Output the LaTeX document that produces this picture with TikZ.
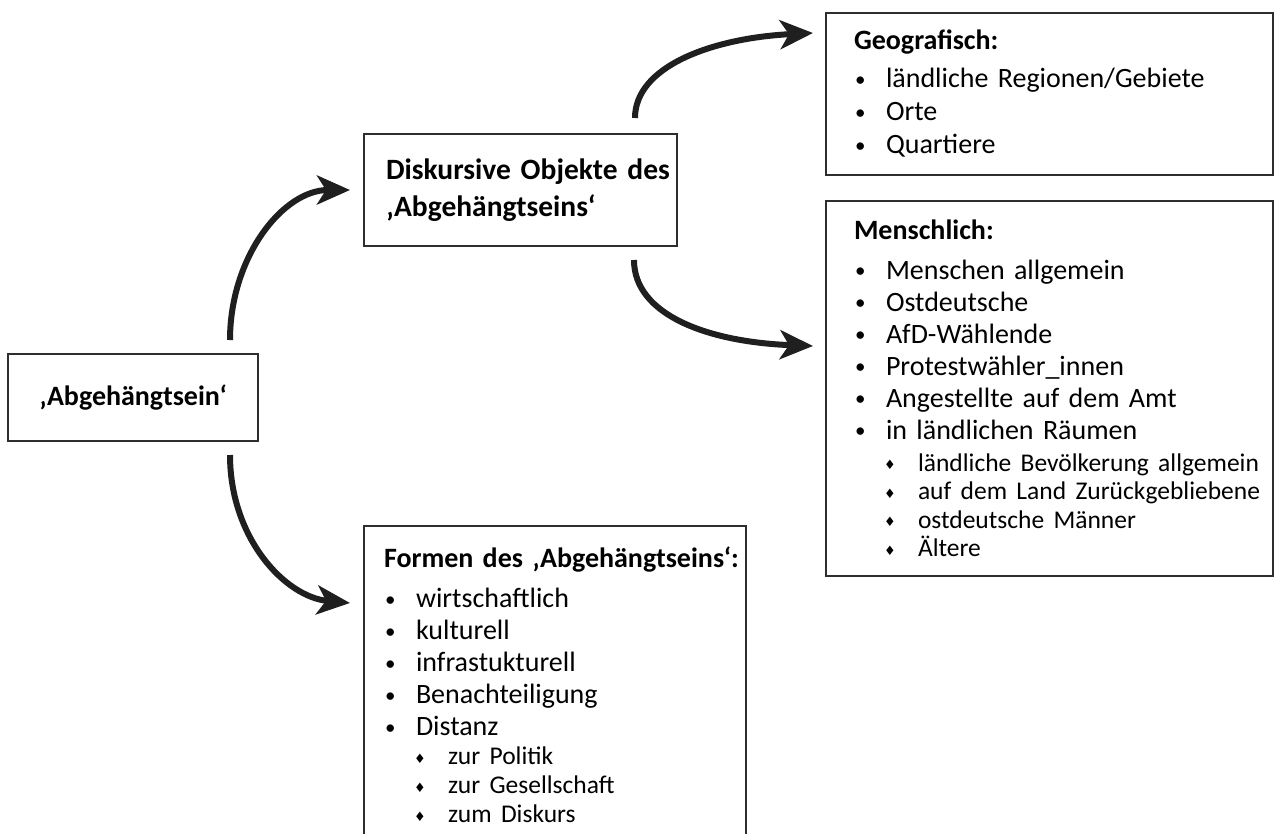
\documentclass[tikz,border=0pt]{standalone}
\usepackage{fontspec}
\setmainfont{Carlito}[WordSpace=0.65]
\newfontfamily\symbfont{DejaVu Sans}
\usetikzlibrary{arrows.meta}

% Aufzaehlungspunkte
\newcommand{\pkt}[1]{\mbox{\makebox[32pt][l]{\hspace*{1pt}\raisebox{1.5pt}{\fontsize{21}{21}\selectfont •}}#1}}
\newcommand{\unterpkt}[1]{\mbox{\hspace*{30pt}\makebox[34pt][l]{\raisebox{1.5pt}{\symbfont\fontsize{13}{13}\selectfont ♦}}{\fontsize{25.5}{28.5}\selectfont #1}}}

\begin{document}
\begin{tikzpicture}[
        x=1pt, y=-1pt,
        every node/.style={font=\fontsize{28}{32}\selectfont},
        kasten/.style={rectangle, draw=black!82, line width=2pt, anchor=north west, inner ysep=4pt},
        liste/.style={kasten, align=left},
        pfeil/.style={-{Stealth[length=33pt, width=29pt, inset=9pt]}, line width=6pt, draw=black!88}
    ]
    \clip (0,0) rectangle (1274,833);
    \fill[white] (0,0) rectangle (1274,833);
%
    % Ausgangsbegriff
    \node[kasten, minimum width=250pt, minimum height=87pt, align=center, font=\fontsize{28}{32}\selectfont\bfseries] (abh) at (7,353) {‚Abgehängtsein‘};
%
    % Objekte
    \node[liste, text width=269pt, inner xsep=22pt, minimum height=112pt, font=\fontsize{29.5}{37}\selectfont\bfseries] (objekte) at (363,133)
        {\mbox{Diskursive Objekte des}\\\mbox{‚Abgehängtseins‘}};
%
    % Formen
    \node[liste, text width=342pt, inner xsep=20pt, minimum height=318pt] (formen) at (363,525)
        {\mbox{\textbf{Formen des ‚Abgehängtseins‘:}}\\[8pt]
         \pkt{wirtschaftlich}\\
         \pkt{kulturell}\\
         \pkt{infrastukturell}\\
         \pkt{Benachteiligung}\\
         \pkt{Distanz}\\[-3pt]
         \unterpkt{zur Politik}\\[-3pt]
         \unterpkt{zur Gesellschaft}\\[-3pt]
         \unterpkt{zum Diskurs}};
%
    % Geografisch
    \node[liste, text width=391pt, inner xsep=28pt, minimum height=162pt, font=\fontsize{28}{33}\selectfont] (geo) at (825,12)
        {\textbf{Geografisch:}\\[5pt]
         \pkt{ländliche Regionen/Gebiete}\\
         \pkt{Orte}\\
         \pkt{Quartiere}};
%
    % Menschlich
    \node[liste, text width=391pt, inner xsep=28pt, minimum height=375pt] (mensch) at (825,200)
        {\textbf{Menschlich:}\\[8pt]
         \pkt{Menschen allgemein}\\
         \pkt{Ostdeutsche}\\
         \pkt{AfD-Wählende}\\
         \pkt{Protestwähler\_innen}\\
         \pkt{Angestellte auf dem Amt}\\
         \pkt{in ländlichen Räumen}\\
         \unterpkt{ländliche Bevölkerung allgemein}\\[-3.5pt]
         \unterpkt{auf dem Land Zurückgebliebene}\\[-3.5pt]
         \unterpkt{ostdeutsche Männer}\\[-3.5pt]
         \unterpkt{Ältere}};
%
    % Pfeile
    \draw[pfeil] ([xshift=-29pt,yshift=13pt]abh.north east) .. controls +(0,-83) and +(-67,0) .. ([xshift=-13pt]objekte.west);
    \draw[pfeil] ([xshift=-29pt,yshift=-13pt]abh.south east) .. controls +(0,83) and +(-65,-6) .. ([xshift=-13pt,yshift=-78pt]formen.north west);
    \draw[pfeil] ([xshift=-43pt,yshift=15pt]objekte.north east) .. controls +(0,-52) and +(-100,5) .. ([xshift=-12pt,yshift=-21pt]geo.north west);
    \draw[pfeil] ([xshift=-44pt,yshift=-13pt]objekte.south east) .. controls +(0,55) and +(-105,-4) .. ([xshift=-12pt,yshift=-146pt]mensch.north west);
%
\end{tikzpicture}
\end{document}
